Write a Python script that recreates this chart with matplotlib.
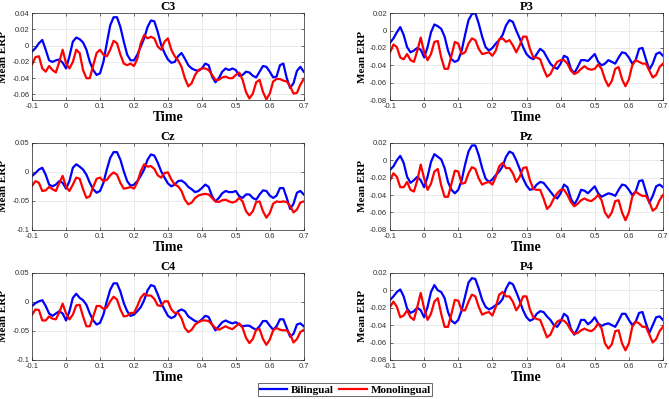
import numpy as np
import matplotlib.pyplot as plt

# time axis, 10 ms steps from -0.1 to 0.7 s
time = np.round(np.arange(-0.10, 0.7001, 0.01), 2)

# Mean ERP per electrode
c3_bi = [-0.007, -0.003, 0.003, 0.007, -0.005, -0.018, -0.020, -0.018, -0.017, -0.021,
         -0.028, -0.013, 0.005, 0.010, 0.008, 0.004, -0.005, -0.020, -0.030, -0.036,
         -0.034, -0.020, 0.003, 0.025, 0.035, 0.035, 0.023, 0.005, -0.011, -0.018,
         -0.018, -0.011, -0.001, 0.009, 0.023, 0.031, 0.030, 0.017, 0.001, -0.009,
         -0.017, -0.021, -0.020, -0.013, -0.009, -0.016, -0.024, -0.028, -0.030, -0.031,
         -0.028, -0.022, -0.024, -0.038, -0.045, -0.040, -0.032, -0.028, -0.030, -0.028,
         -0.030, -0.037, -0.036, -0.032, -0.033, -0.037, -0.039, -0.032, -0.025, -0.026,
         -0.032, -0.039, -0.038, -0.024, -0.022, -0.040, -0.052, -0.046, -0.031, -0.026,
         -0.032]
c3_mono = [-0.023, -0.014, -0.013, -0.028, -0.032, -0.025, -0.030, -0.033, -0.020, -0.005,
           -0.022, -0.028, -0.020, -0.005, -0.009, -0.030, -0.040, -0.040, -0.024, -0.009,
           -0.005, -0.011, -0.013, -0.005, 0.006, 0.003, -0.011, -0.022, -0.024, -0.022,
           -0.025, -0.016, 0.003, 0.013, 0.009, 0.011, 0.009, -0.001, -0.005, 0.005,
           0.009, -0.005, -0.013, -0.018, -0.026, -0.040, -0.050, -0.046, -0.036, -0.030,
           -0.028, -0.028, -0.030, -0.036, -0.042, -0.042, -0.039, -0.038, -0.040, -0.040,
           -0.036, -0.033, -0.042, -0.057, -0.065, -0.059, -0.045, -0.042, -0.057, -0.066,
           -0.059, -0.044, -0.041, -0.041, -0.043, -0.044, -0.050, -0.059, -0.058, -0.048,
           -0.041]

p3_bi = [-0.014, -0.009, -0.002, 0.004, -0.005, -0.019, -0.025, -0.023, -0.020, -0.022,
         -0.031, -0.019, -0.002, 0.007, 0.005, 0.002, -0.007, -0.023, -0.033, -0.036,
         -0.034, -0.023, -0.005, 0.012, 0.019, 0.020, 0.008, -0.007, -0.019, -0.023,
         -0.020, -0.015, -0.011, -0.005, 0.006, 0.012, 0.010, 0.000, -0.009, -0.019,
         -0.027, -0.031, -0.033, -0.027, -0.021, -0.024, -0.031, -0.038, -0.042, -0.044,
         -0.038, -0.029, -0.031, -0.044, -0.049, -0.042, -0.034, -0.034, -0.035, -0.031,
         -0.027, -0.036, -0.040, -0.038, -0.034, -0.036, -0.038, -0.031, -0.025, -0.026,
         -0.031, -0.038, -0.034, -0.021, -0.020, -0.033, -0.045, -0.038, -0.027, -0.025,
         -0.029]
p3_mono = [-0.025, -0.016, -0.019, -0.031, -0.033, -0.027, -0.034, -0.036, -0.023, -0.008,
           -0.025, -0.034, -0.027, -0.013, -0.012, -0.031, -0.044, -0.044, -0.029, -0.013,
           -0.015, -0.027, -0.025, -0.015, -0.009, -0.011, -0.021, -0.027, -0.026, -0.025,
           -0.029, -0.023, -0.010, -0.009, -0.013, -0.011, -0.017, -0.025, -0.017, -0.007,
           -0.007, -0.021, -0.031, -0.031, -0.033, -0.044, -0.053, -0.050, -0.042, -0.036,
           -0.034, -0.034, -0.038, -0.046, -0.050, -0.048, -0.044, -0.041, -0.044, -0.045,
           -0.044, -0.039, -0.044, -0.056, -0.064, -0.058, -0.044, -0.042, -0.056, -0.064,
           -0.056, -0.040, -0.034, -0.036, -0.038, -0.038, -0.046, -0.054, -0.051, -0.042,
           -0.038]

cz_bi = [-0.007, -0.002, 0.004, 0.007, -0.005, -0.022, -0.025, -0.022, -0.016, -0.019,
         -0.029, -0.016, 0.007, 0.013, 0.009, 0.004, -0.005, -0.019, -0.030, -0.036,
         -0.033, -0.019, 0.004, 0.024, 0.034, 0.034, 0.021, 0.001, -0.016, -0.024,
         -0.022, -0.016, -0.007, 0.004, 0.021, 0.030, 0.028, 0.016, 0.001, -0.010,
         -0.020, -0.025, -0.022, -0.016, -0.015, -0.019, -0.026, -0.030, -0.035, -0.033,
         -0.028, -0.022, -0.026, -0.042, -0.051, -0.045, -0.037, -0.033, -0.035, -0.035,
         -0.033, -0.042, -0.045, -0.039, -0.039, -0.045, -0.048, -0.039, -0.032, -0.033,
         -0.041, -0.045, -0.041, -0.028, -0.028, -0.045, -0.064, -0.055, -0.036, -0.033,
         -0.039]
cz_mono = [-0.024, -0.016, -0.019, -0.033, -0.032, -0.026, -0.030, -0.033, -0.019, -0.007,
           -0.026, -0.033, -0.022, -0.010, -0.012, -0.030, -0.045, -0.042, -0.026, -0.012,
           -0.010, -0.016, -0.014, -0.006, -0.001, -0.005, -0.019, -0.029, -0.028, -0.026,
           -0.029, -0.018, 0.001, 0.013, 0.009, 0.010, 0.005, -0.006, -0.010, -0.002,
           -0.001, -0.013, -0.022, -0.025, -0.033, -0.048, -0.056, -0.053, -0.045, -0.041,
           -0.039, -0.038, -0.039, -0.045, -0.051, -0.052, -0.049, -0.048, -0.051, -0.053,
           -0.051, -0.045, -0.051, -0.068, -0.075, -0.068, -0.052, -0.051, -0.068, -0.079,
           -0.071, -0.055, -0.051, -0.052, -0.051, -0.052, -0.059, -0.070, -0.065, -0.053,
           -0.051]

pz_bi = [-0.011, -0.007, 0.000, 0.005, -0.003, -0.019, -0.026, -0.023, -0.019, -0.023,
         -0.031, -0.019, -0.002, 0.007, 0.004, 0.001, -0.009, -0.025, -0.034, -0.038,
         -0.034, -0.023, -0.005, 0.010, 0.017, 0.017, 0.006, -0.009, -0.021, -0.025,
         -0.022, -0.017, -0.013, -0.007, 0.004, 0.010, 0.008, 0.000, -0.010, -0.021,
         -0.029, -0.034, -0.033, -0.028, -0.025, -0.026, -0.031, -0.036, -0.041, -0.044,
         -0.038, -0.028, -0.031, -0.044, -0.051, -0.044, -0.034, -0.035, -0.038, -0.034,
         -0.030, -0.038, -0.042, -0.040, -0.038, -0.039, -0.041, -0.034, -0.028, -0.029,
         -0.034, -0.040, -0.036, -0.024, -0.023, -0.036, -0.049, -0.041, -0.030, -0.028,
         -0.031]
pz_mono = [-0.023, -0.015, -0.019, -0.031, -0.031, -0.025, -0.034, -0.036, -0.023, -0.005,
           -0.021, -0.034, -0.027, -0.013, -0.010, -0.029, -0.042, -0.042, -0.027, -0.012,
           -0.013, -0.027, -0.026, -0.015, -0.008, -0.010, -0.021, -0.028, -0.026, -0.025,
           -0.028, -0.019, -0.007, -0.003, -0.009, -0.009, -0.015, -0.025, -0.019, -0.009,
           -0.008, -0.023, -0.033, -0.034, -0.034, -0.044, -0.056, -0.052, -0.044, -0.038,
           -0.034, -0.034, -0.040, -0.048, -0.053, -0.050, -0.046, -0.044, -0.046, -0.047,
           -0.044, -0.040, -0.046, -0.060, -0.066, -0.060, -0.047, -0.046, -0.060, -0.069,
           -0.060, -0.042, -0.036, -0.039, -0.041, -0.041, -0.048, -0.058, -0.055, -0.046,
           -0.040]

c4_bi = [-0.007, -0.002, 0.001, 0.003, -0.007, -0.020, -0.024, -0.020, -0.016, -0.020,
         -0.032, -0.016, 0.007, 0.014, 0.007, 0.003, -0.005, -0.020, -0.032, -0.039,
         -0.036, -0.022, 0.001, 0.021, 0.032, 0.032, 0.018, -0.002, -0.016, -0.024,
         -0.022, -0.016, -0.009, 0.003, 0.020, 0.029, 0.027, 0.013, -0.002, -0.013,
         -0.024, -0.028, -0.025, -0.016, -0.013, -0.016, -0.025, -0.029, -0.033, -0.035,
         -0.030, -0.024, -0.026, -0.039, -0.049, -0.042, -0.035, -0.032, -0.035, -0.037,
         -0.035, -0.039, -0.042, -0.041, -0.041, -0.045, -0.048, -0.042, -0.033, -0.033,
         -0.041, -0.048, -0.042, -0.030, -0.030, -0.045, -0.060, -0.055, -0.039, -0.037,
         -0.042]
c4_mono = [-0.022, -0.013, -0.014, -0.032, -0.032, -0.025, -0.029, -0.030, -0.018, -0.003,
           -0.020, -0.030, -0.022, -0.006, -0.005, -0.025, -0.042, -0.042, -0.025, -0.007,
           -0.007, -0.012, -0.010, 0.001, 0.009, 0.004, -0.013, -0.025, -0.024, -0.019,
           -0.019, -0.007, 0.007, 0.014, 0.011, 0.011, 0.005, -0.006, -0.007, 0.001,
           0.001, -0.013, -0.019, -0.019, -0.028, -0.045, -0.052, -0.048, -0.039, -0.035,
           -0.032, -0.032, -0.033, -0.039, -0.045, -0.048, -0.045, -0.042, -0.045, -0.047,
           -0.042, -0.037, -0.045, -0.062, -0.071, -0.064, -0.048, -0.047, -0.064, -0.074,
           -0.065, -0.049, -0.045, -0.048, -0.049, -0.049, -0.056, -0.070, -0.064, -0.052,
           -0.048]

p4_bi = [-0.011, -0.007, -0.002, 0.001, -0.007, -0.021, -0.026, -0.024, -0.020, -0.023,
         -0.031, -0.019, -0.002, 0.006, 0.000, -0.002, -0.009, -0.025, -0.035, -0.038,
         -0.034, -0.023, -0.007, 0.009, 0.014, 0.013, 0.002, -0.011, -0.019, -0.022,
         -0.020, -0.017, -0.015, -0.010, 0.002, 0.009, 0.007, -0.002, -0.012, -0.023,
         -0.031, -0.035, -0.033, -0.027, -0.024, -0.025, -0.030, -0.034, -0.040, -0.042,
         -0.036, -0.027, -0.030, -0.044, -0.051, -0.044, -0.034, -0.034, -0.039, -0.036,
         -0.031, -0.038, -0.041, -0.039, -0.038, -0.040, -0.042, -0.035, -0.027, -0.027,
         -0.034, -0.040, -0.036, -0.026, -0.025, -0.038, -0.049, -0.040, -0.031, -0.030,
         -0.034]
p4_mono = [-0.019, -0.013, -0.019, -0.031, -0.029, -0.023, -0.031, -0.034, -0.019, -0.003,
           -0.021, -0.034, -0.027, -0.013, -0.009, -0.027, -0.042, -0.042, -0.027, -0.011,
           -0.012, -0.023, -0.023, -0.013, -0.005, -0.007, -0.019, -0.028, -0.026, -0.025,
           -0.029, -0.019, -0.005, -0.002, -0.007, -0.007, -0.013, -0.023, -0.017, -0.007,
           -0.007, -0.022, -0.031, -0.033, -0.034, -0.044, -0.054, -0.051, -0.042, -0.036,
           -0.034, -0.035, -0.039, -0.046, -0.050, -0.049, -0.046, -0.044, -0.046, -0.047,
           -0.044, -0.038, -0.044, -0.061, -0.067, -0.062, -0.047, -0.046, -0.061, -0.069,
           -0.061, -0.042, -0.036, -0.038, -0.042, -0.042, -0.051, -0.060, -0.056, -0.047,
           -0.042]

titles = ["C3", "P3", "Cz", "Pz", "C4", "P4"]
bilingual = [c3_bi, p3_bi, cz_bi, pz_bi, c4_bi, p4_bi]
monolingual = [c3_mono, p3_mono, cz_mono, pz_mono, c4_mono, p4_mono]
ylims = [(-0.067, 0.04), (-0.08, 0.02), (-0.1, 0.05), (-0.08, 0.02), (-0.1, 0.05), (-0.08, 0.02)]
yticks = [[-0.06, -0.04, -0.02, 0, 0.02, 0.04],
          [-0.08, -0.06, -0.04, -0.02, 0, 0.02],
          [-0.1, -0.05, 0, 0.05],
          [-0.08, -0.06, -0.04, -0.02, 0, 0.02],
          [-0.1, -0.05, 0, 0.05],
          [-0.08, -0.06, -0.04, -0.02, 0, 0.02]]
xticks = [-0.1, 0, 0.1, 0.2, 0.3, 0.4, 0.5, 0.6, 0.7]

serif = "Liberation Serif"
sans = "Liberation Sans"

fig = plt.figure(figsize=(6.69, 3.99), dpi=100)

lefts = [0.048, 0.583]
widths = [0.406, 0.408]
bottoms = [0.749, 0.424, 0.098]
h = 0.218
# ylabel anchor is the right edge of the rotated text
ylab_x = [-0.088, -0.084]

for i in range(6):
    row, col = divmod(i, 2)
    ax = fig.add_axes([lefts[col], bottoms[row], widths[col], h])
    ax.plot(time, bilingual[i], color="#0000ff", lw=1.6, label="Bilingual")
    ax.plot(time, monolingual[i], color="#ff0000", lw=1.6, label="Monolingual")
    ax.set_xlim(-0.1, 0.7)
    ax.set_ylim(*ylims[i])
    ax.set_xticks(xticks)
    ax.set_xticklabels(["-0.1", "0", "0.1", "0.2", "0.3", "0.4", "0.5", "0.6", "0.7"])
    ax.set_yticks(yticks[i])
    ax.set_yticklabels([("%g" % v) for v in yticks[i]])
    ax.grid(True, color="#e6e6e6", lw=0.6)
    ax.set_axisbelow(True)
    ax.tick_params(direction="in", length=2, width=0.5, labelsize=5.5,
                   colors="#303030", pad=2, top=True, right=True)
    for lab in ax.get_xticklabels() + ax.get_yticklabels():
        lab.set_family(sans)
    for s in ax.spines.values():
        s.set_color("#262626")
        s.set_linewidth(0.5)
    ax.set_title(titles[i], fontsize=9, fontweight="bold", family=serif, pad=2)
    ax.set_xlabel("Time", fontsize=10, fontweight="bold", family=serif, labelpad=1)
    ax.set_ylabel("Mean ERP", fontsize=8, fontweight="bold", family=serif)
    ax.yaxis.set_label_coords(ylab_x[col], 0.5)

handles, labels = ax.get_legend_handles_labels()
leg = fig.legend(handles, labels, loc="center", bbox_to_anchor=(0.516, 0.0235), ncol=2,
                 frameon=True, fancybox=False, edgecolor="#262626", borderpad=0.12,
                 handlelength=2.5, handletextpad=0.3, columnspacing=0.5,
                 prop={"family": serif, "weight": "bold", "size": 8})
leg.get_frame().set_linewidth(0.6)

fig.savefig("out.png", dpi=100)
